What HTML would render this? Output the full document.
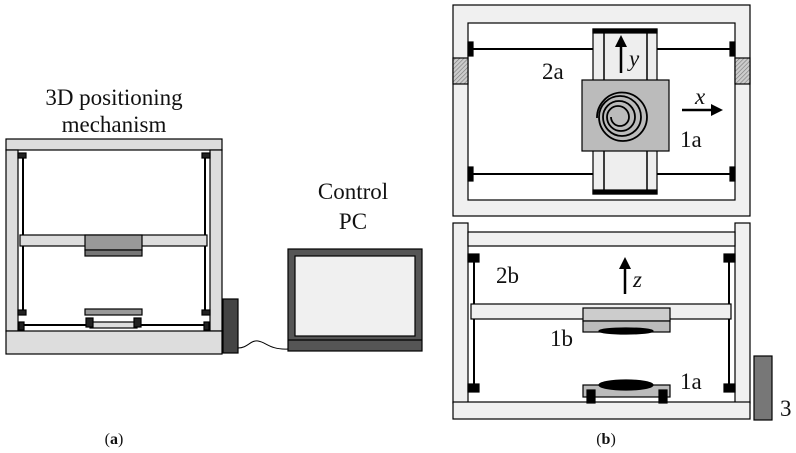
<!DOCTYPE html>
<html><head><meta charset="utf-8"><style>
html,body{margin:0;padding:0;background:#fff;width:796px;height:453px;overflow:hidden}
svg text{font-family:"Liberation Serif","DejaVu Serif",serif;fill:#111}
</style></head><body>
<svg width="796" height="453" viewBox="0 0 796 453" xmlns="http://www.w3.org/2000/svg">
<defs>
<pattern id="h" width="3" height="3" patternUnits="userSpaceOnUse" patternTransform="rotate(45)">
<rect width="3" height="3" fill="#ccc"/><line x1="0" y1="0" x2="0" y2="3" stroke="#777" stroke-width="1.2"/></pattern>
<marker id="ar" markerWidth="12" markerHeight="12" refX="3" refY="6" orient="auto" markerUnits="userSpaceOnUse"><path d="M0,0 L12,6 L0,12 z" fill="#000"/></marker>
</defs>
<g stroke="#000" stroke-width="1.2">
<rect x="6" y="139" width="216" height="11" fill="#ddd"/>
<rect x="6" y="150" width="12" height="181" fill="#ddd"/>
<rect x="210" y="150" width="12" height="181" fill="#ddd"/>
<rect x="6" y="331" width="216" height="23" fill="#ddd"/>
<line x1="23" y1="156" x2="23" y2="312" stroke-width="2"/>
<line x1="205" y1="156" x2="205" y2="312" stroke-width="2"/>
<rect x="18" y="153" width="8" height="5" fill="#222"/>
<rect x="202" y="153" width="8" height="5" fill="#222"/>
<rect x="18" y="310" width="8" height="5" fill="#222"/>
<rect x="202" y="310" width="8" height="5" fill="#222"/>
<rect x="20" y="235" width="187" height="11" fill="#ddd"/>
<rect x="85" y="235" width="57" height="15" fill="#999"/>
<rect x="85" y="250" width="57" height="6" fill="#777"/>
<rect x="85" y="309" width="57" height="6" fill="#999"/>
<line x1="22" y1="325" x2="206" y2="325" stroke-width="2"/>
<rect x="90" y="322" width="47" height="6" fill="#ddd"/>
<rect x="86" y="318" width="7" height="9" fill="#222"/>
<rect x="134" y="318" width="7" height="9" fill="#222"/>
<rect x="19" y="322" width="5" height="8" fill="#222"/>
<rect x="204" y="322" width="5" height="8" fill="#222"/>
<rect x="223" y="299" width="15" height="54" fill="#444"/>
<path d="M238,348 C248,348 250,340 258,341 C266,342 270,350 288,349" fill="none" stroke-width="1"/>
<rect x="288" y="249" width="134" height="102" fill="#555"/>
<rect x="295" y="256" width="120" height="80" fill="#f0f0f0"/>
<line x1="288" y1="340" x2="422" y2="340"/>
<rect x="453" y="5" width="297" height="211" fill="#f0f0f0"/>
<rect x="468" y="23" width="267" height="177" fill="#fff"/>
<rect x="453" y="58" width="15" height="26" fill="url(#h)"/>
<rect x="735" y="58" width="15" height="26" fill="url(#h)"/>
<line x1="470" y1="49" x2="733" y2="49" stroke-width="2"/>
<line x1="470" y1="174" x2="733" y2="174" stroke-width="2"/>
<rect x="468" y="42" width="5" height="14" fill="#000"/>
<rect x="730" y="42" width="5" height="14" fill="#000"/>
<rect x="468" y="167" width="5" height="14" fill="#000"/>
<rect x="730" y="167" width="5" height="14" fill="#000"/>
<rect x="593" y="29" width="64" height="165" fill="#eee"/>
<rect x="593" y="29" width="64" height="4" fill="#000"/>
<rect x="593" y="190" width="64" height="4" fill="#000"/>
<line x1="604" y1="29" x2="604" y2="194" stroke-width="1.5"/>
<line x1="647" y1="29" x2="647" y2="194" stroke-width="1.5"/>
<rect x="582" y="80" width="87" height="71" fill="#bbb"/>
<path d="M597,118 A25,25 0 0 1 647,117 A24,24 0 0 1 599,117 A21,21 0 0 1 641,117 A19,19 0 0 1 603,117 A16,16 0 0 1 635,117 A14,14 0 0 1 607,117 A11,11 0 0 1 629,117 A9,9 0 0 1 611,117" fill="none" stroke-width="1.8"/>
<line x1="621" y1="73" x2="621" y2="44" stroke-width="2.5" marker-end="url(#ar)"/>
<line x1="682" y1="110" x2="714" y2="110" stroke-width="2.5" marker-end="url(#ar)"/>
<rect x="453" y="223" width="15" height="180" fill="#f0f0f0"/>
<rect x="735" y="223" width="15" height="180" fill="#f0f0f0"/>
<rect x="468" y="232" width="267" height="14" fill="#f0f0f0"/>
<rect x="453" y="402" width="297" height="17" fill="#f0f0f0"/>
<line x1="474" y1="258" x2="474" y2="388" stroke-width="2"/>
<line x1="729" y1="258" x2="729" y2="388" stroke-width="2"/>
<rect x="468" y="254" width="11" height="8" fill="#000"/>
<rect x="724" y="254" width="11" height="8" fill="#000"/>
<rect x="468" y="384" width="11" height="8" fill="#000"/>
<rect x="724" y="384" width="11" height="8" fill="#000"/>
<rect x="471" y="304" width="260" height="15" fill="#f0f0f0"/>
<rect x="583" y="308" width="87" height="13" fill="#ccc"/>
<rect x="583" y="321" width="87" height="11" fill="#bbb"/>
<ellipse cx="626" cy="331" rx="27" ry="3" fill="#000"/>
<line x1="625" y1="294" x2="625" y2="266" stroke-width="2.5" marker-end="url(#ar)"/>
<rect x="583" y="385" width="87" height="12" fill="#bbb"/>
<ellipse cx="626" cy="385" rx="27" ry="5" fill="#000"/>
<rect x="587" y="390" width="8" height="13" fill="#000"/>
<rect x="659" y="390" width="8" height="13" fill="#000"/>
<rect x="754" y="356" width="18" height="64" fill="#777"/>
</g>
<g font-size="23" font-family="Liberation Serif, serif">
<text x="114" y="105" text-anchor="middle">3D positioning</text>
<text x="114" y="132" text-anchor="middle">mechanism</text>
<text x="353" y="199" text-anchor="middle">Control</text>
<text x="353" y="229" text-anchor="middle">PC</text>
<text x="542" y="79">2a</text>
<text x="680" y="147">1a</text>
<text x="629" y="66" font-style="italic">y</text>
<text x="695" y="104" font-style="italic">x</text>
<text x="496" y="283">2b</text>
<text x="550" y="346">1b</text>
<text x="633" y="287" font-style="italic">z</text>
<text x="680" y="389">1a</text>
<text x="780" y="416">3</text>
<text x="114" y="444" text-anchor="middle" font-size="16">(<tspan font-weight="bold">a</tspan>)</text>
<text x="606" y="444" text-anchor="middle" font-size="16">(<tspan font-weight="bold">b</tspan>)</text>
</g>
</svg>
</body></html>
